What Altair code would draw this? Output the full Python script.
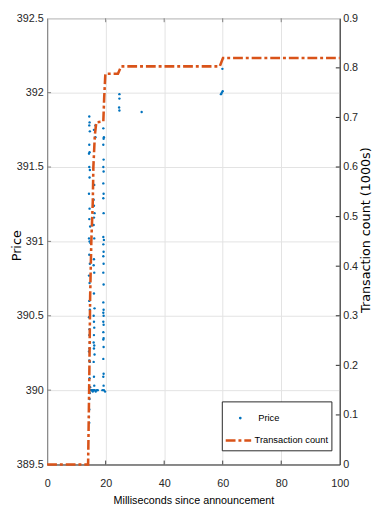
import altair as alt
import pandas as pd

# ---------------- data ----------------
x_ticks = [0, 20, 40, 60, 80, 100]
price_ticks = [389.5, 390, 390.5, 391, 391.5, 392, 392.5]
count_ticks = [0, 0.1, 0.2, 0.3, 0.4, 0.5, 0.6, 0.7, 0.8, 0.9]

# price scatter: milliseconds since announcement
price_ms = [
    14.4, 14.5, 14.4, 14.6, 14.4, 14.5, 14.3, 14.4, 14.6, 14.5, 14.3, 14.5, 14.4,
    14.7, 14.3, 14.5, 14.8, 14.4, 14.6, 14.3, 14.5, 14.4, 14.6, 14.3, 14.5, 14.4,
    14.6, 14.5, 14.3, 14.4, 14.6, 14.5, 14.7, 14.6, 14.5, 14.4, 14.3, 14.4,
    16.0, 16.1, 15.9, 16.0, 16.2, 16.0, 15.9, 16.1, 16.0, 15.9, 16.1, 16.0, 16.2,
    15.9, 16.0, 16.1, 16.0, 15.9, 16.1, 16.0, 16.2, 15.9, 16.0, 16.1, 16.5, 16.5,
    19.2, 19.4, 19.3, 19.2, 19.3, 19.2, 19.3, 19.2, 19.3, 19.2, 19.3, 19.2, 19.4,
    19.2, 19.3, 19.2, 19.3, 19.2, 19.3, 19.2, 19.3, 19.2, 19.3, 19.2, 19.3, 19.2,
    19.3, 19.2, 19.3, 19.2, 19.3, 19.2, 19.3,
    14.8, 15.0, 15.2, 15.4, 15.6, 15.8, 16.0, 16.3, 16.6, 17.0, 17.3, 18.9, 19.4, 19.8,
    24.7, 24.7, 24.6, 24.7, 32.3, 59.4, 59.7, 60.0, 59.9,
]
price_val = [
    391.84, 391.80, 391.78, 391.74, 391.65, 391.60, 391.59, 391.50, 391.48, 391.43,
    391.32, 391.22, 391.15, 391.10, 391.02, 391.00, 390.99, 390.91, 390.85, 390.77,
    390.72, 390.60, 390.54, 390.49, 390.41, 390.37, 390.32, 390.28, 390.26, 390.20,
    390.19, 390.08, 390.02, 389.98, 389.94, 389.87, 389.82, 389.78,
    391.75, 391.38, 391.28, 391.24, 391.19, 391.16, 391.11, 391.02, 390.88, 390.84,
    390.79, 390.65, 390.55, 390.50, 390.46, 390.42, 390.37, 390.32, 390.30, 390.28,
    390.24, 390.19, 390.09, 390.03, 391.78, 391.70,
    391.76, 391.70, 391.69, 391.65, 391.55, 391.50, 391.47, 391.39, 391.32, 391.29,
    391.19, 391.03, 391.01, 390.98, 390.93, 390.90, 390.85, 390.79, 390.71, 390.59,
    390.54, 390.52, 390.50, 390.46, 390.44, 390.39, 390.35, 390.34, 390.29, 390.21,
    390.11, 390.09, 390.03,
    390.00, 390.00, 390.00, 390.00, 389.99, 390.00, 390.00, 390.00, 389.99, 390.00,
    390.00, 390.00, 390.00, 389.99,
    391.99, 391.96, 391.90, 391.88, 391.87, 391.99, 392.00, 392.01, 392.16,
]

# transaction count (1000s)
count_ms = [0, 14.0, 14.4, 14.7, 15.1, 15.6, 15.8, 16.3, 16.8, 19.2, 19.5, 19.9,
            24.2, 25.3, 59.0, 60.1, 100]
count_val = [0, 0, 0.17, 0.34, 0.45, 0.53, 0.60, 0.664, 0.69, 0.692, 0.74, 0.788,
             0.788, 0.803, 0.803, 0.82, 0.82]

# ---------------- style ----------------
BLUE = "#0072BD"
ORANGE = "#D95319"
SANS = "Liberation Sans"
WIDE = "DejaVu Sans"
GRID = "#e2e2e2"
DASH = [10, 3, 3, 3]

W, H = 299, 456

pts = pd.DataFrame({"ms": price_ms, "price": price_val, "series": "Price"})
cnt = pd.DataFrame({"ms": count_ms, "count": count_val, "series": "Transaction count"})
xt = pd.DataFrame({"t": x_ticks[1:-1]})
pt = pd.DataFrame({"t": price_ticks[1:-1]})
ct = pd.DataFrame({"t": count_ticks[1:-1]})
box = pd.DataFrame({"k": [0]})

x_axis = alt.Axis(
    values=x_ticks, title="Milliseconds since announcement", ticks=False,
    labelFlush=False, labelOverlap=False,
    labelFont=SANS, labelFontSize=11, labelColor="#262626", labelPadding=13,
    titleFont=SANS, titleFontSize=11, titleFontWeight="normal", titleColor="#000",
    titlePadding=7, grid=True, gridColor=GRID, domainColor="#404040", domainWidth=1,
)
x_scale = alt.Scale(domain=[0, 100], nice=False)
x_enc = alt.X("ms:Q", scale=x_scale, axis=x_axis)
xt_enc = alt.X("t:Q", scale=x_scale, axis=x_axis)

price_axis = alt.Axis(
    orient="left", values=price_ticks, format="~g", ticks=False,
    labelFlush=False, labelOverlap=False,
    labelFont=SANS, labelFontSize=11, labelColor="#262626", labelPadding=4,
    title="Price", titleFont=WIDE, titleFontSize=13, titleFontWeight="normal",
    titleColor="#000", titleAngle=270, titleBaseline="alphabetic",
    titleX=-27.5, titleY=232, titleAlign="center",
    grid=True, gridColor=GRID, domainColor="#7f7f7f", domainWidth=1,
)
price_scale = alt.Scale(domain=[389.5, 392.5], nice=False, zero=False)

count_axis = alt.Axis(
    orient="right", values=count_ticks, format="~g", ticks=False,
    labelFlush=False, labelOverlap=False,
    labelFont=SANS, labelFontSize=11, labelColor="#262626", labelPadding=3,
    title="Transaction count (1000s)", titleFont=WIDE, titleFontSize=13,
    titleFontWeight="normal", titleColor="#000", titleAngle=270,
    titleBaseline="alphabetic", titleX=30.5, titleY=216, titleAlign="center",
    grid=False, domainColor="#262626", domainWidth=1,
)
count_scale = alt.Scale(domain=[0, 0.9], nice=False, zero=True)

price_legend = alt.Legend(
    title=None, orient="none", legendX=192.6, legendY=403.75, padding=0,
    symbolType="circle", symbolSize=8, symbolStrokeWidth=0,
    labelFont=SANS, labelFontSize=9.5, labelColor="#000", labelOffset=13.6,
)
count_legend = alt.Legend(
    title=None, orient="none", legendX=181, legendY=417, padding=0,
    symbolType="stroke", symbolSize=676, symbolStrokeWidth=2.5,
    symbolStrokeColor=ORANGE,
    labelFont=SANS, labelFontSize=9.5, labelColor="#000", labelOffset=2,
)

points = alt.Chart(pts).mark_circle(size=6, opacity=1).encode(
    x=x_enc,
    y=alt.Y("price:Q", scale=price_scale, axis=price_axis),
    color=alt.Color("series:N", scale=alt.Scale(domain=["Price"], range=[BLUE]),
                    legend=price_legend),
)
left_ticks = alt.Chart(pt).mark_rule(color="#7f7f7f", strokeWidth=1).encode(
    y=alt.Y("t:Q", scale=price_scale, axis=price_axis),
    x=alt.value(0), x2=alt.value(4),
)
bottom_ticks = alt.Chart(xt).mark_rule(color="#404040", strokeWidth=1).encode(
    x=xt_enc, y=alt.value(H), y2=alt.value(H - 4),
)
top_ticks = alt.Chart(xt).mark_rule(color="#7f7f7f", strokeWidth=1).encode(
    x=xt_enc, y=alt.value(0), y2=alt.value(4),
)

line = alt.Chart(cnt).mark_line(
    strokeWidth=2.6, strokeCap="butt", color=ORANGE
).encode(
    x=x_enc,
    y=alt.Y("count:Q", scale=count_scale, axis=count_axis),
    strokeDash=alt.StrokeDash(
        "series:N",
        scale=alt.Scale(domain=["Transaction count"], range=[DASH]),
        legend=count_legend,
    ),
)
right_ticks = alt.Chart(ct).mark_rule(color="#262626", strokeWidth=1).encode(
    y=alt.Y("t:Q", scale=count_scale, axis=count_axis),
    x=alt.value(W - 4), x2=alt.value(W),
)
legend_box = alt.Chart(box).mark_rect(
    fill="white", stroke="#262626", strokeWidth=1
).encode(
    x=alt.value(179), x2=alt.value(291), y=alt.value(392), y2=alt.value(442),
)

left = alt.layer(points, left_ticks, bottom_ticks, top_ticks)
right = alt.layer(line, right_ticks, legend_box)

chart = (
    alt.layer(left, right)
    .resolve_scale(y="independent")
    .properties(
        width=W, height=H,
        autosize=alt.AutoSizeParams(type="none"),
        padding={"left": 40, "top": 5, "right": 34, "bottom": 42},
        background="white",
    )
    .configure_view(stroke="#7f7f7f", strokeWidth=1)
)

chart.save("out.html", embed_options={"renderer": "svg", "actions": False})
